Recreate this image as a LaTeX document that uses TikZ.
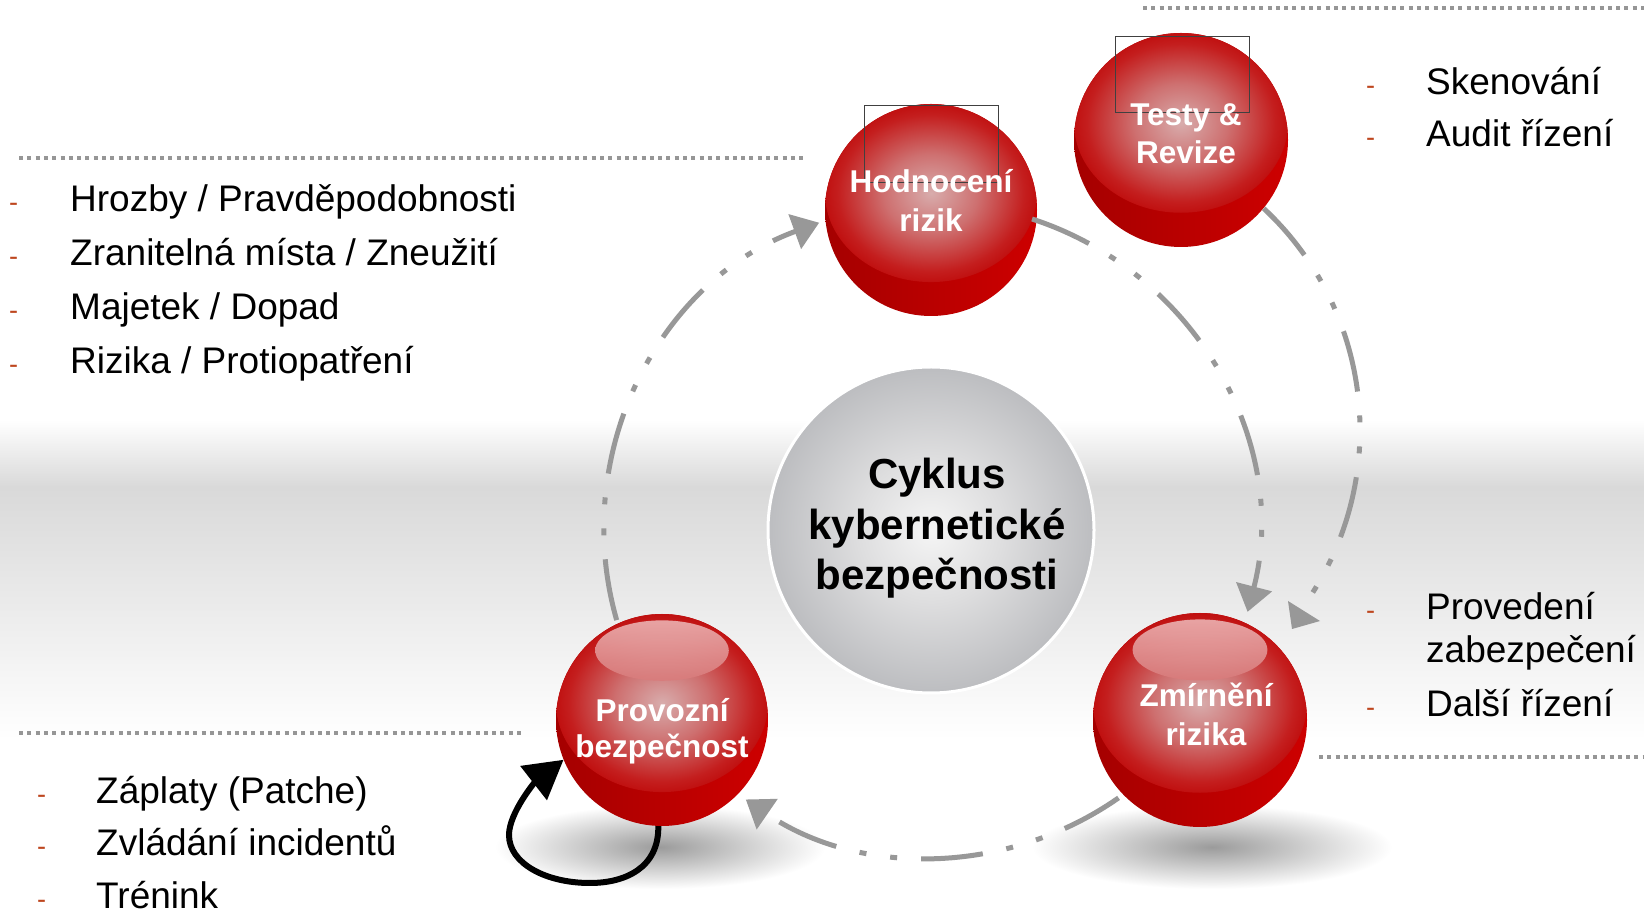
\documentclass[tikz,border=0pt]{standalone}
\usepackage{fontspec}
\setmainfont{Liberation Sans}
\usetikzlibrary{arrows.meta}
\definecolor{arrowgray}{RGB}{152,152,152}
\definecolor{dotgray}{RGB}{150,150,150}
\definecolor{bulletc}{RGB}{190,70,30}
\definecolor{bandgray}{RGB}{217,217,217}
\definecolor{redL}{RGB}{165,0,0}
\definecolor{redR}{RGB}{205,0,0}
\definecolor{pinkC}{RGB}{216,172,172}
\definecolor{pinkM}{RGB}{206,112,112}
\definecolor{redE}{RGB}{196,30,30}
\definecolor{redEE}{RGB}{192,16,16}
\definecolor{hlTop}{RGB}{236,178,178}
\definecolor{hlBot}{RGB}{216,122,122}
\definecolor{coreC}{RGB}{245,245,245}
\definecolor{coreM}{RGB}{222,222,223}
\definecolor{coreE}{RGB}{188,189,192}
\definecolor{shadC}{RGB}{155,155,155}
\pgfdeclareradialshading{sphinner}{\pgfpoint{0bp}{0bp}}{color(0bp)=(pinkC); color(11bp)=(pinkM); color(22bp)=(redE); color(25bp)=(redEE); color(50bp)=(redEE)}
\pgfdeclareradialshading{coreshade}{\pgfpoint{0bp}{0bp}}{color(0bp)=(coreC); color(11bp)=(coreM); color(25bp)=(coreE); color(50bp)=(coreE)}
\pgfdeclareradialshading{shadowshade}{\pgfpoint{0bp}{0bp}}{color(0bp)=(shadC); color(25bp)=(white); color(50bp)=(white)}
\newcommand\redball[4]{%
  \node[circle,inner sep=0pt,minimum size={2*#4pt}] (#1) at (#2,#3) {};
  \begin{scope}
    \clip (#2,#3) circle[radius=#4];
    \shade[left color=redL,right color=redR] (#2,#3) circle[radius=#4];
    \shade[shading=sphinner] (#2,{#3+0.16*#4}) ellipse[x radius=#4,y radius={0.84*#4}];
  \end{scope}
}
\newcommand\ballgloss[3]{%
  \shade[top color=hlTop,bottom color=hlBot,fill opacity=0.9] (#1,{#2+0.655*#3}) ellipse[x radius={0.63*#3},y radius={0.285*#3}];
}
\begin{document}
\begin{tikzpicture}[x=1pt,y=1pt,
  dotline/.style={dotgray,line width=4pt,dash pattern=on 4pt off 4.3pt},
  arcline/.style={arrowgray,line width=5pt,dash pattern=on 62pt off 24pt on 7pt off 24pt on 7pt off 24pt},
  arctip/.style={-{Triangle[width=36pt,length=26pt]}},
  listtxt/.style={font=\fontsize{37}{44}\selectfont,anchor=base west,inner sep=0pt},
  bul/.style={font=\fontsize{27}{30}\selectfont,text=bulletc,anchor=base west,inner sep=0pt},
  balllabel/.style={font=\bfseries\fontsize{31.5}{38}\selectfont,text=white,anchor=base,inner sep=0pt},
  corelabel/.style={font=\bfseries\fontsize{42}{51}\selectfont,text=black,anchor=base,inner sep=0pt},
  loopline/.style={black,line width=6pt,-{Triangle[width=42pt,length=38pt]}},
  brokenimg/.style={draw=black!75,line width=1pt}
]
\useasboundingbox (0,0) rectangle (1644,913);
\fill[white] (0,0) rectangle (1644,913);
% background band
\shade[top color=white,bottom color=bandgray] (0,493) rectangle (1644,426);
\shade[top color=bandgray,bottom color=white] (0,426) rectangle (1644,173);
% dotted separators
\draw[dotline] (19,755) -- (807,755);
\draw[dotline] (19,180) -- (524,180);
\draw[dotline] (1143,905) -- (1644,905);
\draw[dotline] (1319,156) -- (1644,156);
% shadows
\shade[shading=shadowshade] (660,66) ellipse[x radius=165,y radius=42];
\shade[shading=shadowshade] (1212,66) ellipse[x radius=180,y radius=42];
% centre
\node[circle,inner sep=0pt,minimum size=326pt,draw=white,line width=3pt,shade,shading=coreshade] (core) at (931,383) {};
\node[corelabel] (coreA) at (937,424) {Cyklus};
\node[corelabel] (coreB) at (937,373) {kybernetické};
\node[corelabel] (coreC) at (937,323) {bezpečnosti};
% spheres
\redball{hod}{931}{703}{106}
\redball{tes}{1181}{773}{107}
\redball{prov}{662}{193}{106}
\redball{zmi}{1200}{193}{107}
\ballgloss{662}{193}{106}
\ballgloss{1200}{193}{107}
\draw[brokenimg] (864,807) rectangle (998,730);
\draw[brokenimg] (1115,876) rectangle (1249,800);
\node[balllabel] (hodA) at (931,720) {Hodnocení};
\node[balllabel] (hodB) at (931,681) {rizik};
\node[balllabel] (tesA) at (1186,787) {Testy \&};
\node[balllabel] (tesB) at (1186,749) {Revize};
\node[balllabel] (provA) at (662,191) {Provozní};
\node[balllabel] (provB) at (662,155) {bezpečnost};
\node[balllabel] (zmiA) at (1206,206) {Zmírnění};
\node[balllabel] (zmiB) at (1206,167) {rizika};
% cycle connectors
\draw[arcline,arctip] ([shift={(196:327)}]core.center) arc[start angle=196,end angle=110,radius=327];
\draw[arcline,arctip] ([shift={(72:327)}]core.center) arc[start angle=72,end angle=-14.5,radius=327];
\draw[arcline,arctip] ([shift={(-55:327)}]core.center) arc[start angle=-55,end angle=-124.5,radius=327];
\coordinate (outerC) at (1057,483);
\draw[arcline] ([shift={(47:303)}]outerC) arc[start angle=47,end angle=-34,radius=303];
\fill[arrowgray] (1288,312) -- (1320,292) -- (1292,284) -- cycle;
% self loop
\draw[loopline] (prov.268) .. controls (659,45) and (625,30) .. (590,30) .. controls (545,30) and (509,50) .. (509,78) .. controls (509,100) and (535,131) .. (prov.202);
% lists
\node[bul] (b1) at (9,701) {-};
\node[listtxt] (t1) at (70,701) {Hrozby / Pravděpodobnosti};
\node[bul] (b2) at (9,647) {-};
\node[listtxt] (t2) at (70,647) {Zranitelná místa / Zneužití};
\node[bul] (b3) at (9,593) {-};
\node[listtxt] (t3) at (70,593) {Majetek / Dopad};
\node[bul] (b4) at (9,539) {-};
\node[listtxt] (t4) at (70,539) {Rizika / Protiopatření};
\node[bul] (b5) at (37,109) {-};
\node[listtxt] (t5) at (96,109) {Záplaty (Patche)};
\node[bul] (b6) at (37,57) {-};
\node[listtxt] (t6) at (96,57) {Zvládání incidentů};
\node[bul] (b7) at (37,5) {-};
\node[listtxt] (t7) at (96,5) {Trénink};
\node[bul] (b8) at (1366,818) {-};
\node[listtxt] (t8) at (1426,818) {Skenování};
\node[bul] (b9) at (1366,766) {-};
\node[listtxt] (t9) at (1426,766) {Audit řízení};
\node[bul] (b10) at (1366,293) {-};
\node[listtxt] (t10) at (1426,293) {Provedení};
\node[listtxt] (t11) at (1426,250) {zabezpečení};
\node[bul] (b12) at (1366,196) {-};
\node[listtxt] (t12) at (1426,196) {Další řízení};
\end{tikzpicture}
\end{document}
